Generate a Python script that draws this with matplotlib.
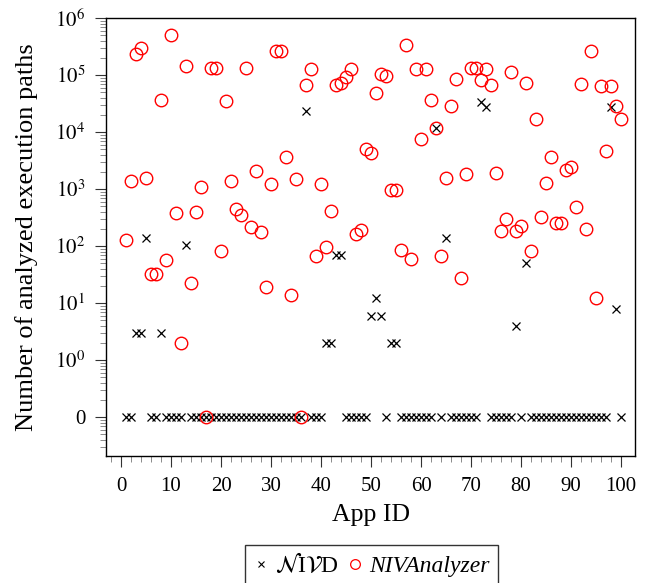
import numpy as np
import matplotlib
matplotlib.use('Agg')
from matplotlib import pyplot as plt
from matplotlib.ticker import FixedLocator, MultipleLocator, LogLocator, NullFormatter
from matplotlib.lines import Line2D

plt.rcParams['font.family'] = ['Liberation Serif', 'DejaVu Serif']
plt.rcParams['mathtext.fontset'] = 'stix'

# app ids 1..100
app_ids = list(range(1, 101))

# NIVAnalyzer paths (0 = none)
analyzer = [127, 1380, 234000, 296000, 1550, 32, 32, 36600, 57, 500000,
            380, 2, 145000, 22, 395, 1085, 0, 133000, 133000, 81,
            35000, 1380, 447, 350, 133000, 215, 2090, 177, 19, 1230,
            263000, 263000, 3650, 14, 1500, 0, 66000, 127000, 67, 1230,
            96, 410, 66000, 71000, 92000, 127000, 162, 190, 5000, 4270,
            48000, 105000, 96000, 960, 960, 85, 337000, 59, 127000, 7560,
            127000, 36600, 11700, 67, 1550, 28600, 85000, 28, 1830, 133000,
            133000, 81000, 127000, 66000, 1900, 183, 297, 112000, 183, 224,
            71000, 81, 16900, 323, 1270, 3650, 253, 253, 2150, 2450,
            484, 69500, 199, 263000, 12, 64000, 4660, 64000, 28600, 16900]

# NIVD paths, only the apps that are not 0
nivd_nonzero = {3: 3, 4: 3, 5: 138, 8: 3, 13: 104, 37: 23300, 41: 2, 42: 2,
                43: 69, 44: 69, 50: 6, 51: 12, 52: 6, 54: 2, 55: 2, 63: 11700,
                65: 138, 72: 33600, 73: 27500, 79: 4, 81: 50, 98: 27500, 99: 8}
nivd = [nivd_nonzero.get(i, 0) for i in app_ids]

ytick_vals = [0.1, 1, 10, 100, 1e3, 1e4, 1e5, 1e6]
ytick_labels = ['0'] + ['$10^{%d}$' % k for k in range(0, 7)]

ZERO = 0.1  # where 0 is drawn on the log axis
x = np.array(app_ids)
y_nivd = np.where(np.array(nivd) == 0, ZERO, np.array(nivd, dtype=float))
y_an = np.where(np.array(analyzer) == 0, ZERO, np.array(analyzer, dtype=float))

fig = plt.figure(figsize=(6.48, 5.83), dpi=100)
ax = fig.add_axes([106/648, 1-456/583, (635-106)/648, (456-18)/583])

ax.plot(x, y_nivd, ls='none', marker='x', ms=6, mew=0.9, color='black')
ax.plot(x, y_an, ls='none', marker='o', ms=9, mew=1.0, mfc='none', mec='red')

ax.set_yscale('log')
ax.set_ylim(10**-1.684, 1e6)
ax.set_xlim(-3, 102.8)
ax.yaxis.set_major_locator(FixedLocator(ytick_vals))
ax.set_yticklabels(ytick_labels)
ax.yaxis.set_minor_locator(LogLocator(base=10, subs=np.arange(2, 10), numticks=50))
ax.yaxis.set_minor_formatter(NullFormatter())
ax.xaxis.set_major_locator(FixedLocator(range(0, 101, 10)))
ax.xaxis.set_minor_locator(FixedLocator(range(-2, 101, 2)))

ax.tick_params(which='major', direction='out', length=8, width=0.8, labelsize=15, color='#333333')
ax.tick_params(which='minor', direction='out', length=4.5, width=0.6, color='#777777')
ax.tick_params(axis='x', which='major', pad=7)
ax.tick_params(axis='y', which='major', pad=7)
for s in ax.spines.values():
    s.set_linewidth(1.0)

ax.set_xlabel('App ID', fontsize=18.5, labelpad=6)
ax.set_ylabel('Number of analyzed execution paths', fontsize=19, labelpad=12)

handles = [Line2D([], [], ls='none', marker='x', ms=5, mew=0.8, color='black'),
           Line2D([], [], ls='none', marker='o', ms=7, mew=0.9, mfc='none', mec='red')]
labels = [r'$\mathcal{N}$I$\mathcal{V}$D', 'NIVAnalyzer']
leg = fig.legend(handles, labels, loc='upper center', bbox_to_anchor=(371.5/648, 1-545/583),
                 ncol=2, frameon=True, fancybox=False, edgecolor='black', fontsize=17,
                 handlelength=0.6, handletextpad=0.3, columnspacing=0.4, borderpad=0.35,
                 borderaxespad=0)
leg.get_frame().set_linewidth(1.0)
leg.get_texts()[1].set_style('italic')

fig.savefig('out.png', dpi=100)
